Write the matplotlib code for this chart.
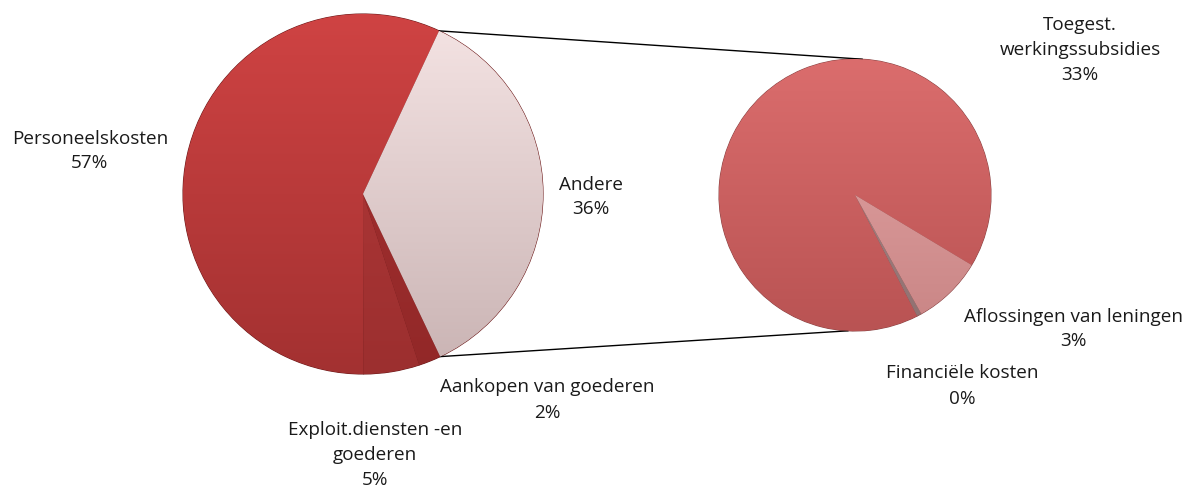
import numpy as np
import matplotlib
matplotlib.use("Agg")
import matplotlib.pyplot as plt
from matplotlib.colors import LinearSegmentedColormap

# --- data ---
main_labels = ["Personeelskosten", "Exploit.diensten -en\ngoederen", "Aankopen van goederen", "Andere"]
main_values = [57, 5, 2, 36]
sub_labels = ["Toegest.\nwerkingssubsidies", "Financiële kosten", "Aflossingen van leningen"]
sub_values = [33, 0.2, 3]
sub_texts = ["33%", "0%", "3%"]

# colours (top, bottom) per slice
main_colors = [("#cf4343", "#a33131"), ("#b53a3a", "#9c2f2f"), ("#a83232", "#922828"), ("#f5e4e4", "#c9b3b3")]
sub_colors = [("#db6d6d", "#b95353"), ("#b09090", "#8f7070"), ("#e6a8a8", "#c98585")]

W, H = 1194, 493
plt.rcParams["font.family"] = ["Open Sans", "DejaVu Sans"]

fig = plt.figure(figsize=(W / 100, H / 100), dpi=100)
ax = fig.add_axes([0, 0, 1, 1])

c1, r1 = (363, 299), 180
c2, r2 = (855, 298), 136
start1 = 65
start2 = -31


def shade(wedges, colors, center, r):
    # vertical gradient clipped to each wedge, a rough stand-in for the bevel
    for w, (top, bot) in zip(wedges, colors):
        cmap = LinearSegmentedColormap.from_list("g", [bot, top])
        grad = np.linspace(0, 1, 256).reshape(-1, 1)
        im = ax.imshow(grad, cmap=cmap, origin="lower", aspect="auto",
                       extent=[center[0] - r, center[0] + r, center[1] - r, center[1] + r],
                       zorder=2)
        im.set_clip_path(w)


w1, _ = ax.pie(main_values, startangle=start1, counterclock=True, center=c1, radius=r1,
               colors=[c[0] for c in main_colors],
               wedgeprops=dict(edgecolor="#6e1c1c", linewidth=0.8), frame=True)
w2, _ = ax.pie(sub_values, startangle=start2, counterclock=True, center=c2, radius=r2,
               colors=[c[0] for c in sub_colors],
               wedgeprops=dict(edgecolor="#8c4646", linewidth=0.8), frame=True)
ax.set_xlim(0, W)
ax.set_ylim(0, H)
ax.set_aspect("equal")
ax.axis("off")
shade(w1, main_colors, c1, r1)
shade(w2, sub_colors, c2, r2)

# connector lines from the "Andere" slice to the second pie
a_top = np.deg2rad(start1)
a_bot = np.deg2rad(start1 + 360 * sum(main_values[:3]) / sum(main_values))
p1 = (c1[0] + r1 * np.cos(a_top), c1[1] + r1 * np.sin(a_top))
p2 = (c1[0] + r1 * np.cos(a_bot), c1[1] + r1 * np.sin(a_bot))
q1 = (c2[0] + r2 * np.cos(np.deg2rad(87)), c2[1] + r2 * np.sin(np.deg2rad(87)))
q2 = (c2[0] + r2 * np.cos(np.deg2rad(267)), c2[1] + r2 * np.sin(np.deg2rad(267)))
ax.plot([p1[0], q1[0]], [p1[1], q1[1]], color="black", lw=1, zorder=1)
ax.plot([p2[0], q2[0]], [p2[1], q2[1]], color="black", lw=1, zorder=1)

# labels
lbl = dict(ha="center", va="center", fontsize=13.6, color="#1a1a1a", linespacing=1.5)
main_pos = [(90, H - 151), (375, H - 455), (547, H - 400), (591, H - 197)]
for (x, y), name, v in zip(main_pos, main_labels, main_values):
    ax.text(x, y, f"{name}\n{v}%", **lbl)
sub_pos = [(1080, H - 50), (962, H - 386), (1073, H - 329)]
for (x, y), name, t in zip(sub_pos, sub_labels, sub_texts):
    ax.text(x, y, f"{name}\n{t}", **lbl)

fig.savefig("out.png", dpi=100)
